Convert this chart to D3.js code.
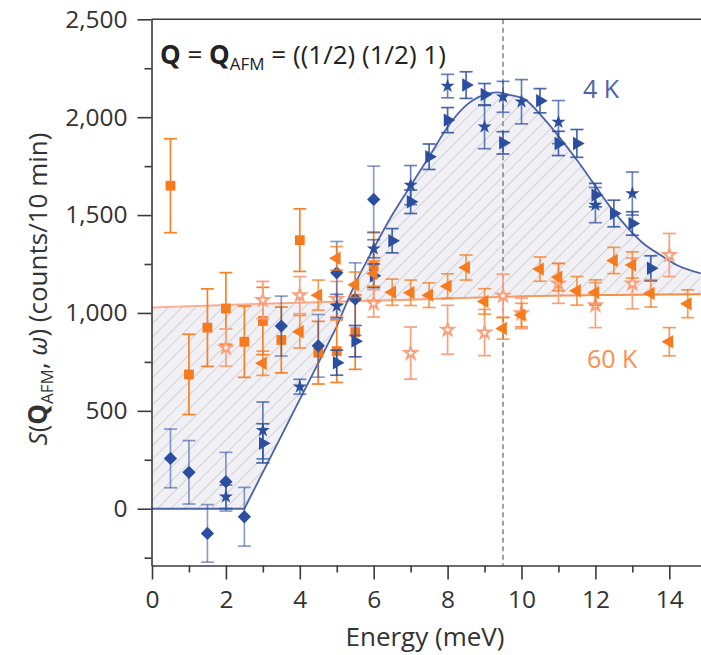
<!DOCTYPE html>
<html>
<head>
<meta charset="utf-8">
<script src="https://cdn.jsdelivr.net/npm/d3@7"></script>
<style>
  html, body { margin: 0; padding: 0; background: #fff; }
  svg { display: block; font-family: "Open Sans", "Noto Sans", sans-serif; }
</style>
</head>
<body>
<svg id="chart" width="701" height="655"></svg>
<script>
// ---- 4 K data (blue) ----
const blueDiamondE   = [0.5, 1, 1.5, 2, 2.5, 3.5, 4.5, 5, 5.5, 6];
const blueDiamondS   = [257, 186, -126, 138, -41, 933, 832, 1205, 1071, 1580];
const blueDiamondErr = [150, 162, 147, 150, 150, 153, 160, 160, 185, 170];

const blueStarE   = [2, 3, 4, 5, 6, 7, 8, 9, 9.5, 10, 11, 12, 13];
const blueStarS   = [61, 400, 623, 1035, 1328, 1653, 2159, 1951, 2104, 2079, 1975, 1551, 1610];
const blueStarErr = [60, 145, 38, 60, 46, 100, 60, 112, 79, 113, 110, 90, 110];

const blueTriE   = [3, 5, 5.5, 6, 6.5, 7, 7.5, 8, 8.5, 9, 9.5, 10.5, 11, 11.5, 12, 12.5, 13, 13.5];
const blueTriS   = [334, 746, 856, 1190, 1369, 1568, 1798, 1985, 2164, 2116, 1869, 2084, 1866, 1866, 1602, 1508, 1457, 1228];
const blueTriErr = [100, 64, 80, 60, 62, 60, 65, 64, 68, 56, 57, 62, 62, 71, 60, 68, 60, 64];

// ---- 60 K data (orange) ----
const orangeSqE   = [0.5, 1, 1.5, 2, 2.5, 3, 3.5, 4, 4.5, 5, 5.5, 6];
const orangeSqS   = [1650, 686, 925, 1023, 853, 959, 862, 1372, 797, 805, 902, 1238];
const orangeSqErr = [240, 205, 198, 183, 182, 172, 168, 160, 160, 160, 190, 175];

const orangeStarE   = [2, 3, 4, 5, 6, 7, 8, 9, 9.5, 10, 11, 12, 13, 14];
const orangeStarS   = [823, 1066, 1091, 1071, 1049, 795, 914, 900, 1088, 998, 1151, 1040, 1151, 1296];
const orangeStarErr = [95, 95, 95, 90, 70, 133, 125, 118, 110, 78, 102, 115, 130, 110];

const orangeTriE   = [3, 4, 4.5, 5, 5.5, 6, 6.5, 7, 7.5, 8, 8.5, 9, 9.5, 10, 10.5, 11, 11.5, 12, 12.5, 13, 13.5, 14, 14.5];
const orangeTriS   = [743, 904, 1091, 1279, 1144, 1202, 1106, 1103, 1091, 1137, 1232, 1059, 921, 989, 1224, 1183, 1113, 1104, 1268, 1245, 1100, 853, 1047];
const orangeTriErr = [62, 83, 77, 60, 65, 65, 67, 65, 63, 63, 64, 65, 55, 60, 62, 70, 73, 65, 67, 67, 70, 72, 71];

// ---- model curves ----
// 4 K: gapped ramp, then a broad resonance peak
const fit4KRampE = [0, 2.5, 5];
const fit4KRampS = [0, 0, 930];
const fit4KPeakE = [5, 5.5, 6, 6.5, 7, 7.5, 8, 8.5, 9, 9.35, 9.7, 10.05, 10.6, 11.05, 11.5, 11.95, 12.4, 12.85, 13.3, 13.76, 14.2, 14.85];
const fit4KPeakS = [930, 1150, 1330, 1500, 1650, 1798, 1950, 2060, 2115, 2127, 2113, 2096, 1994, 1892, 1781, 1662, 1542, 1440, 1355, 1296, 1245, 1202];
// 60 K: nearly flat background
const fit60KE = [0, 3.5, 7, 10, 12.5, 14.85];
const fit60KS = [1028, 1050, 1068, 1085, 1092, 1095];

const resonanceE = 9.5;

// axis ticks
const yMajor = [0, 500, 1000, 1500, 2000, 2500];
const yMinor = [-250, 250, 750, 1250, 1750, 2250];
const xMajor = [0, 2, 4, 6, 8, 10, 12, 14];
const xMinor = [1, 3, 5, 7, 9, 11, 13];

// ---- layout ----
const svg = d3.select("#chart");
const x = d3.scaleLinear().domain([0, 14.85]).range([152, 700.7]);
const y = d3.scaleLinear().domain([-290, 2500]).range([565.5, 19.3]);

const BLUE = "#2b4f9e";
const BLUE_LINE = "#4b63a9";
const ORANGE = "#f67b1e";
const ORANGE_LIGHT = "#f9a07c";

const zip = (a, b) => a.map((v, i) => [v, b[i]]);

// hatch pattern for the region between the two curves
const defs = svg.append("defs");
const pat = defs.append("pattern")
  .attr("id", "hatch")
  .attr("patternUnits", "userSpaceOnUse")
  .attr("width", 9.6).attr("height", 9.6)
  .attr("patternTransform", "rotate(45)");
pat.append("rect").attr("width", 9.6).attr("height", 9.6).attr("fill", "#f0f0f5");
pat.append("line").attr("x1", 0).attr("y1", 0).attr("x2", 0).attr("y2", 9.6)
  .attr("stroke", "#c2c2c2").attr("stroke-width", 1.3);

const grad = defs.append("linearGradient").attr("id", "g60")
  .attr("gradientUnits", "userSpaceOnUse")
  .attr("x1", x(0)).attr("x2", x(14.85)).attr("y1", 0).attr("y2", 0);
grad.append("stop").attr("offset", 0).attr("stop-color", "#f9b19d");
grad.append("stop").attr("offset", 0.55).attr("stop-color", "#f8a070");
grad.append("stop").attr("offset", 1).attr("stop-color", "#f7873a");

const lineLin = d3.line().x(d => x(d[0])).y(d => y(d[1]));
const lineSmooth = d3.line().x(d => x(d[0])).y(d => y(d[1])).curve(d3.curveMonotoneX);

const ramp = zip(fit4KRampE, fit4KRampS);
const peak = zip(fit4KPeakE, fit4KPeakS);
const bg60 = zip(fit60KE, fit60KS);

const path4K = lineLin(ramp) + lineSmooth(peak).replace(/^M/, "L");
const path60 = lineSmooth(bg60);
const path60Rev = lineSmooth(bg60.slice().reverse());

svg.append("path")
  .attr("d", path4K + path60Rev.replace(/^M/, "L") + "Z")
  .attr("fill", "url(#hatch)");

svg.append("path").attr("d", path60)
  .attr("fill", "none").attr("stroke", "url(#g60)").attr("stroke-width", 2);
svg.append("path").attr("d", path4K)
  .attr("fill", "none").attr("stroke", BLUE_LINE).attr("stroke-width", 1.8);

// resonance energy marker
svg.append("line")
  .attr("x1", x(resonanceE)).attr("x2", x(resonanceE))
  .attr("y1", y(2500)).attr("y2", y(-290))
  .attr("stroke", "#8a8a8a").attr("stroke-width", 1.6)
  .attr("stroke-dasharray", "5,3.5");

// ---- data layers ----
function errorBars(E, S, Err, color, opacity) {
  const g = svg.append("g").attr("stroke", color).attr("stroke-width", 1.7)
    .attr("stroke-opacity", opacity).attr("fill", "none");
  E.forEach((e, i) => {
    const cx = x(e), top = y(S[i] + Err[i]), bot = y(S[i] - Err[i]);
    g.append("line").attr("x1", cx).attr("x2", cx).attr("y1", top).attr("y2", bot);
    g.append("line").attr("x1", cx - 6.5).attr("x2", cx + 6.5).attr("y1", top).attr("y2", top);
    g.append("line").attr("x1", cx - 6.5).attr("x2", cx + 6.5).attr("y1", bot).attr("y2", bot);
  });
}

function markers(E, S, type, size, rotate, fill, stroke, sw) {
  const sym = d3.symbol().type(type).size(size);
  svg.append("g").selectAll("path").data(E).join("path")
    .attr("d", sym)
    .attr("transform", (e, i) => `translate(${x(e)},${y(S[i])}) rotate(${rotate})`)
    .attr("fill", fill)
    .attr("stroke", stroke || "none")
    .attr("stroke-width", sw || 0);
}

// 60 K
errorBars(orangeSqE, orangeSqS, orangeSqErr, ORANGE, 0.95);
markers(orangeSqE, orangeSqS, d3.symbolSquare, 96, 0, ORANGE);

errorBars(orangeStarE, orangeStarS, orangeStarErr, ORANGE_LIGHT, 1);
markers(orangeStarE, orangeStarS, d3.symbolStar, 46, 0, "#fff", ORANGE_LIGHT, 2);

// 4 K
errorBars(blueDiamondE, blueDiamondS, blueDiamondErr, BLUE, 0.55);
markers(blueDiamondE, blueDiamondS, d3.symbolSquare, 88, 45, BLUE);

errorBars(blueStarE, blueStarS, blueStarErr, BLUE, 0.7);
markers(blueStarE, blueStarS, d3.symbolStar, 62, 0, BLUE);

errorBars(blueTriE, blueTriS, blueTriErr, BLUE, 0.85);
markers(blueTriE, blueTriS, d3.symbolTriangle, 78, 90, BLUE);

errorBars(orangeTriE, orangeTriS, orangeTriErr, ORANGE, 0.75);
markers(orangeTriE, orangeTriS, d3.symbolTriangle, 78, -90, ORANGE);

// ---- axes ----
const axisColor = "#3a3a3a";
svg.append("g").attr("transform", `translate(${x(0) - 0.5},0)`)
  .call(d3.axisLeft(y).tickValues(yMajor).tickFormat(d3.format(",")).tickSize(14).tickSizeOuter(0).tickPadding(10));
svg.append("g").attr("transform", `translate(${x(0) - 0.5},0)`)
  .call(d3.axisLeft(y).tickValues(yMinor).tickFormat("").tickSize(7).tickSizeOuter(0))
  .select(".domain").remove();

svg.append("g").attr("transform", `translate(0,${y(-290)})`)
  .call(d3.axisBottom(x).tickValues(xMajor).tickSize(14).tickSizeOuter(0).tickPadding(11));
svg.append("g").attr("transform", `translate(0,${y(-290)})`)
  .call(d3.axisBottom(x).tickValues(xMinor).tickFormat("").tickSize(7).tickSizeOuter(0))
  .select(".domain").remove();

svg.selectAll(".domain, .tick line").attr("stroke", axisColor).attr("stroke-width", 1.6);
svg.selectAll(".tick text").attr("fill", "#333").style("font-size", "24.5px")
  .style("font-family", "'Open Sans', sans-serif");

// top frame
svg.append("line").attr("x1", x(0) - 0.5).attr("x2", 701)
  .attr("y1", y(2500)).attr("y2", y(2500))
  .attr("stroke", axisColor).attr("stroke-width", 1.6);

// ---- labels ----
const title = svg.append("text").attr("x", 160).attr("y", 64)
  .attr("fill", "#222").style("font-size", "26px");
title.append("tspan").attr("font-weight", "bold").text("Q");
title.append("tspan").text(" = ");
title.append("tspan").attr("font-weight", "bold").text("Q");
title.append("tspan").attr("dy", 6).style("font-size", "17px").text("AFM");
title.append("tspan").attr("dy", -6).text(" = ((1/2) (1/2) 1)");

svg.append("text").attr("x", 583).attr("y", 98)
  .attr("fill", "#4a63a9").style("font-size", "25px").text("4 K");
svg.append("text").attr("x", 587).attr("y", 368)
  .attr("fill", "#f8904e").style("font-size", "25px").text("60 K");

svg.append("text").attr("x", 425).attr("y", 646).attr("text-anchor", "middle")
  .attr("fill", "#333").style("font-size", "26px").text("Energy (meV)");

const yl = svg.append("text")
  .attr("transform", "translate(47,289) rotate(-90)")
  .attr("text-anchor", "middle").attr("fill", "#333").style("font-size", "26px");
yl.append("tspan").attr("font-style", "italic").text("S");
yl.append("tspan").text("(");
yl.append("tspan").attr("font-weight", "bold").text("Q");
yl.append("tspan").attr("dy", 6).style("font-size", "17px").text("AFM");
yl.append("tspan").attr("dy", -6).text(", ");
yl.append("tspan").attr("font-style", "italic").text("ω");
yl.append("tspan").text(") (counts/10 min)");
</script>
</body>
</html>
